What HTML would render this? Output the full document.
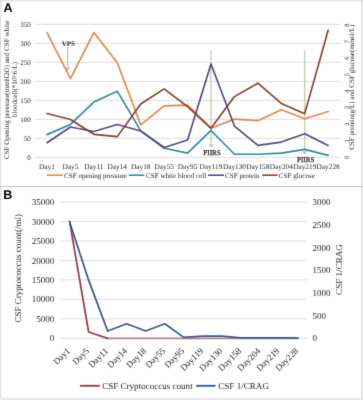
<!DOCTYPE html>
<html><head><meta charset="utf-8"><style>
html,body{margin:0;padding:0;background:#fff;}
body{width:363px;height:400px;overflow:hidden;}
svg{display:block;font-family:"Liberation Serif",serif;}
svg{text-rendering:geometricPrecision;}
</style></head><body>
<svg width="363" height="400" viewBox="0 0 363 400">
<defs><filter id="soft" color-interpolation-filters="sRGB" x="0" y="0" width="363" height="400" filterUnits="userSpaceOnUse"><feConvolveMatrix order="3" kernelMatrix="0.0113 0.0838 0.0113 0.0838 0.6193 0.0838 0.0113 0.0838 0.0113" edgeMode="duplicate" preserveAlpha="false"/></filter></defs>
<g filter="url(#soft)">
<rect x="0" y="0" width="363" height="400" fill="#fff"/>
<rect x="0" y="0" width="363" height="1" fill="#e2e2e2"/>
<rect x="0" y="1" width="363" height="1" fill="#f2f2f2"/>
<rect x="0" y="0" width="1.2" height="400" fill="#e0e0e0"/>
<rect x="361" y="0" width="1.2" height="400" fill="#d6d6d6"/>
<rect x="0" y="186.0" width="363" height="1.1" fill="#c8c8c8"/>
<rect x="0" y="397.6" width="363" height="2.4" fill="#ebebeb"/>
<text x="3.5" y="11.6" font-family="Liberation Sans" font-weight="bold" font-size="12.6" fill="#000">A</text>
<text x="3.3" y="198.7" font-family="Liberation Sans" font-weight="bold" font-size="12.6" fill="#000">B</text>
<line x1="35.0" y1="157.30" x2="340.5" y2="157.30" stroke="#DEDEDE" stroke-width="1"/>
<text x="30.8" y="159.70" text-anchor="end" font-size="7" fill="#262626">0</text>
<line x1="35.0" y1="138.31" x2="340.5" y2="138.31" stroke="#DEDEDE" stroke-width="1"/>
<text x="30.8" y="140.71" text-anchor="end" font-size="7" fill="#262626">50</text>
<line x1="35.0" y1="119.33" x2="340.5" y2="119.33" stroke="#DEDEDE" stroke-width="1"/>
<text x="30.8" y="121.73" text-anchor="end" font-size="7" fill="#262626">100</text>
<line x1="35.0" y1="100.34" x2="340.5" y2="100.34" stroke="#DEDEDE" stroke-width="1"/>
<text x="30.8" y="102.74" text-anchor="end" font-size="7" fill="#262626">150</text>
<line x1="35.0" y1="81.36" x2="340.5" y2="81.36" stroke="#DEDEDE" stroke-width="1"/>
<text x="30.8" y="83.76" text-anchor="end" font-size="7" fill="#262626">200</text>
<line x1="35.0" y1="62.37" x2="340.5" y2="62.37" stroke="#DEDEDE" stroke-width="1"/>
<text x="30.8" y="64.77" text-anchor="end" font-size="7" fill="#262626">250</text>
<line x1="35.0" y1="43.39" x2="340.5" y2="43.39" stroke="#DEDEDE" stroke-width="1"/>
<text x="30.8" y="45.79" text-anchor="end" font-size="7" fill="#262626">300</text>
<line x1="35.0" y1="24.40" x2="340.5" y2="24.40" stroke="#DEDEDE" stroke-width="1"/>
<text x="30.8" y="26.80" text-anchor="end" font-size="7" fill="#262626">350</text>
<text transform="translate(349.0,157.30) rotate(-90)" text-anchor="middle" font-size="6.5" fill="#262626">0</text>
<text transform="translate(349.0,140.76) rotate(-90)" text-anchor="middle" font-size="6.5" fill="#262626">1</text>
<text transform="translate(349.0,124.22) rotate(-90)" text-anchor="middle" font-size="6.5" fill="#262626">2</text>
<text transform="translate(349.0,107.69) rotate(-90)" text-anchor="middle" font-size="6.5" fill="#262626">3</text>
<text transform="translate(349.0,91.15) rotate(-90)" text-anchor="middle" font-size="6.5" fill="#262626">4</text>
<text transform="translate(349.0,74.61) rotate(-90)" text-anchor="middle" font-size="6.5" fill="#262626">5</text>
<text transform="translate(349.0,58.07) rotate(-90)" text-anchor="middle" font-size="6.5" fill="#262626">6</text>
<text transform="translate(349.0,41.54) rotate(-90)" text-anchor="middle" font-size="6.5" fill="#262626">7</text>
<text transform="translate(349.0,25.00) rotate(-90)" text-anchor="middle" font-size="6.5" fill="#262626">8</text>
<text transform="translate(9,90) rotate(-90)" text-anchor="middle" font-size="7.15" fill="#262626">CSF Opening pressure(mmH2O) and CSF white</text>
<text transform="translate(16.8,89.5) rotate(-90)" text-anchor="middle" font-size="7.15" fill="#262626">bloodcell(*10^6/L)</text>
<text transform="translate(354,87.3) rotate(-90)" text-anchor="middle" font-size="7.03" fill="#262626">CSF protein(g/L) and CSF glucose(mmol/L)</text>
<text x="47.00" y="168.5" text-anchor="middle" font-size="7.3" fill="#262626">Day1</text>
<text x="70.43" y="168.5" text-anchor="middle" font-size="7.3" fill="#262626">Day5</text>
<text x="93.86" y="168.5" text-anchor="middle" font-size="7.3" fill="#262626">Day11</text>
<text x="117.29" y="168.5" text-anchor="middle" font-size="7.3" fill="#262626">Day14</text>
<text x="140.72" y="168.5" text-anchor="middle" font-size="7.3" fill="#262626">Day18</text>
<text x="164.15" y="168.5" text-anchor="middle" font-size="7.3" fill="#262626">Day55</text>
<text x="187.58" y="168.5" text-anchor="middle" font-size="7.3" fill="#262626">Day95</text>
<text x="211.01" y="168.5" text-anchor="middle" font-size="7.3" fill="#262626">Day119</text>
<text x="234.44" y="168.5" text-anchor="middle" font-size="7.3" fill="#262626">Day130</text>
<text x="257.87" y="168.5" text-anchor="middle" font-size="7.3" fill="#262626">Day158</text>
<text x="281.30" y="168.5" text-anchor="middle" font-size="7.3" fill="#262626">Day204</text>
<text x="304.73" y="168.5" text-anchor="middle" font-size="7.3" fill="#262626">Day219</text>
<text x="328.16" y="168.5" text-anchor="middle" font-size="7.3" fill="#262626">Day228</text>
<line x1="67.7" y1="46.8" x2="67.7" y2="70.2" stroke="#9FB888" stroke-width="0.85"/><polyline points="65.5,67.2 67.7,70.2 69.9,67.2" fill="none" stroke="#9FB888" stroke-width="0.9"/>
<line x1="211.01" y1="50.6" x2="211.01" y2="147" stroke="#9FB888" stroke-width="0.85"/><polyline points="208.81,144 211.01,147 213.20999999999998,144" fill="none" stroke="#9FB888" stroke-width="0.9"/>
<line x1="304.73" y1="50.8" x2="304.73" y2="154" stroke="#9FB888" stroke-width="0.85"/><polyline points="302.53000000000003,151 304.73,154 306.93,151" fill="none" stroke="#9FB888" stroke-width="0.9"/>
<polyline points="47.00,32.56 70.43,78.68 93.86,32.56 117.29,62.80 140.72,124.79 164.15,105.89 187.58,105.14 211.01,128.19 234.44,119.12 257.87,120.63 281.30,109.67 304.73,118.74 328.16,111.56" fill="none" stroke="#E2884A" stroke-width="1.65" stroke-linejoin="round" stroke-linecap="round"/>
<polyline points="47.00,134.62 70.43,124.41 93.86,102.11 117.29,91.15 140.72,130.84 164.15,148.23 187.58,153.14 211.01,130.46 234.44,154.28 257.87,154.28 281.30,153.14 304.73,149.36 328.16,155.41" fill="none" stroke="#2A8F9A" stroke-width="1.65" stroke-linejoin="round" stroke-linecap="round"/>
<polyline points="47.00,142.75 70.43,127.04 93.86,131.50 117.29,124.56 140.72,131.01 164.15,147.54 187.58,139.94 211.01,64.03 234.44,126.04 257.87,145.39 281.30,142.09 304.73,133.82 328.16,145.39" fill="none" stroke="#524A80" stroke-width="1.65" stroke-linejoin="round" stroke-linecap="round"/>
<polyline points="47.00,113.48 70.43,119.43 93.86,134.31 117.29,136.63 140.72,104.05 164.15,88.83 187.58,106.70 211.01,128.36 234.44,96.61 257.87,83.21 281.30,103.39 304.73,113.64 328.16,30.29" fill="none" stroke="#87402C" stroke-width="1.65" stroke-linejoin="round" stroke-linecap="round"/>
<text x="68.4" y="46.1" text-anchor="middle" font-size="7" font-weight="bold" fill="#161616">VPS</text>
<text x="212.01" y="154.8" text-anchor="middle" font-size="7.1" fill="#222" stroke="#222" stroke-width="0.25">PIIRS</text>
<text x="305.73" y="162.2" text-anchor="middle" font-size="7.1" fill="#222" stroke="#222" stroke-width="0.25">PIIRS</text>
<line x1="46.8" y1="175.2" x2="62.7" y2="175.2" stroke="#E2884A" stroke-width="1.6"/><text x="64.0" y="177.9" font-size="7.1" fill="#262626">CSF opening pressure</text>
<line x1="128.8" y1="175.2" x2="144.3" y2="175.2" stroke="#2A8F9A" stroke-width="1.6"/><text x="146.0" y="177.9" font-size="7.1" fill="#262626">CSF white blood cell</text>
<line x1="208.0" y1="175.2" x2="224.0" y2="175.2" stroke="#524A80" stroke-width="1.6"/><text x="225.0" y="177.9" font-size="7.1" fill="#262626">CSF protein</text>
<line x1="262.2" y1="175.2" x2="277.6" y2="175.2" stroke="#87402C" stroke-width="1.6"/><text x="278.8" y="177.9" font-size="7.1" fill="#262626">CSF glucose</text>
<line x1="60.2" y1="338.30" x2="306.8" y2="338.30" stroke="#DEDEDE" stroke-width="1"/>
<text x="54.2" y="341.40" text-anchor="end" font-size="9" fill="#262626">0</text>
<line x1="60.2" y1="318.83" x2="306.8" y2="318.83" stroke="#DEDEDE" stroke-width="1"/>
<text x="54.2" y="321.93" text-anchor="end" font-size="9" fill="#262626">5000</text>
<line x1="60.2" y1="299.36" x2="306.8" y2="299.36" stroke="#DEDEDE" stroke-width="1"/>
<text x="54.2" y="302.46" text-anchor="end" font-size="9" fill="#262626">10000</text>
<line x1="60.2" y1="279.89" x2="306.8" y2="279.89" stroke="#DEDEDE" stroke-width="1"/>
<text x="54.2" y="282.99" text-anchor="end" font-size="9" fill="#262626">15000</text>
<line x1="60.2" y1="260.41" x2="306.8" y2="260.41" stroke="#DEDEDE" stroke-width="1"/>
<text x="54.2" y="263.51" text-anchor="end" font-size="9" fill="#262626">20000</text>
<line x1="60.2" y1="240.94" x2="306.8" y2="240.94" stroke="#DEDEDE" stroke-width="1"/>
<text x="54.2" y="244.04" text-anchor="end" font-size="9" fill="#262626">25000</text>
<line x1="60.2" y1="221.47" x2="306.8" y2="221.47" stroke="#DEDEDE" stroke-width="1"/>
<text x="54.2" y="224.57" text-anchor="end" font-size="9" fill="#262626">30000</text>
<line x1="60.2" y1="202.00" x2="306.8" y2="202.00" stroke="#DEDEDE" stroke-width="1"/>
<text x="54.2" y="205.10" text-anchor="end" font-size="9" fill="#262626">35000</text>
<text x="312.4" y="341.40" font-size="9" fill="#262626">0</text>
<text x="312.4" y="318.68" font-size="9" fill="#262626">500</text>
<text x="312.4" y="295.97" font-size="9" fill="#262626">1000</text>
<text x="312.4" y="273.25" font-size="9" fill="#262626">1500</text>
<text x="312.4" y="250.53" font-size="9" fill="#262626">2000</text>
<text x="312.4" y="227.82" font-size="9" fill="#262626">2500</text>
<text x="312.4" y="205.10" font-size="9" fill="#262626">3000</text>
<text transform="translate(21.4,268.3) rotate(-90)" text-anchor="middle" font-size="9.05" fill="#262626">CSF Cryptococcus count(/ml)</text>
<text transform="translate(342.1,269.5) rotate(-90)" text-anchor="middle" font-size="9.1" fill="#262626">CSF 1/CRAG</text>
<text transform="translate(70.70,351.5) rotate(-45)" text-anchor="end" font-size="9" fill="#262626">Day1</text>
<text transform="translate(89.73,351.5) rotate(-45)" text-anchor="end" font-size="9" fill="#262626">Day5</text>
<text transform="translate(108.76,351.5) rotate(-45)" text-anchor="end" font-size="9" fill="#262626">Day11</text>
<text transform="translate(127.79,351.5) rotate(-45)" text-anchor="end" font-size="9" fill="#262626">Day14</text>
<text transform="translate(146.82,351.5) rotate(-45)" text-anchor="end" font-size="9" fill="#262626">Day18</text>
<text transform="translate(165.85,351.5) rotate(-45)" text-anchor="end" font-size="9" fill="#262626">Day55</text>
<text transform="translate(184.88,351.5) rotate(-45)" text-anchor="end" font-size="9" fill="#262626">Day95</text>
<text transform="translate(203.91,351.5) rotate(-45)" text-anchor="end" font-size="9" fill="#262626">Day119</text>
<text transform="translate(222.94,351.5) rotate(-45)" text-anchor="end" font-size="9" fill="#262626">Day130</text>
<text transform="translate(241.97,351.5) rotate(-45)" text-anchor="end" font-size="9" fill="#262626">Day158</text>
<text transform="translate(261.00,351.5) rotate(-45)" text-anchor="end" font-size="9" fill="#262626">Day204</text>
<text transform="translate(280.03,351.5) rotate(-45)" text-anchor="end" font-size="9" fill="#262626">Day219</text>
<text transform="translate(299.06,351.5) rotate(-45)" text-anchor="end" font-size="9" fill="#262626">Day228</text>
<polyline points="107.66,338.30 126.69,338.30 145.72,338.30 164.75,338.30 183.78,338.30 202.81,338.30 221.84,338.30 240.87,338.30 259.90,338.30 278.93,338.30 297.96,338.30" fill="none" stroke="#BC8080" stroke-width="1.7" stroke-linejoin="round" stroke-linecap="round"/>
<polyline points="69.60,221.47 88.63,331.99 107.66,338.30" fill="none" stroke="#93404D" stroke-width="1.75" stroke-linejoin="round" stroke-linecap="round"/>
<polyline points="69.60,221.99 88.63,280.15 107.66,331.03 126.69,323.76 145.72,331.03 164.75,323.76 183.78,337.39 202.81,336.03 221.84,336.03 240.87,337.85 259.90,337.85 278.93,337.85 297.96,337.85" fill="none" stroke="#355C85" stroke-width="1.75" stroke-linejoin="round" stroke-linecap="round"/>
<line x1="80" y1="385.8" x2="99.8" y2="385.8" stroke="#93404D" stroke-width="1.9"/><text x="102.2" y="388.7" font-size="9.05" fill="#262626">CSF Cryptococcus count</text>
<line x1="196.1" y1="385.8" x2="215.5" y2="385.8" stroke="#355C85" stroke-width="1.9"/><text x="218.2" y="388.7" font-size="9.1" fill="#262626">CSF 1/CRAG</text>
</g>
</svg>
</body></html>
